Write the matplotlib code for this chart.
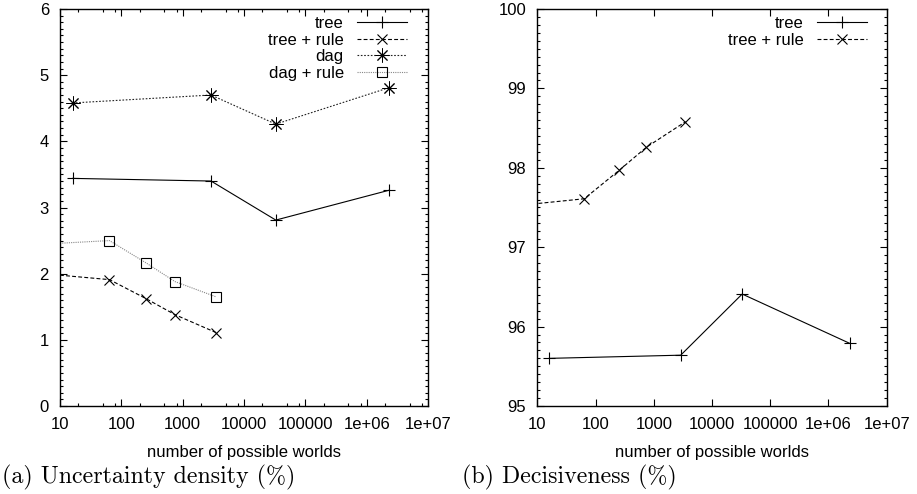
import matplotlib
matplotlib.use('Agg')
import matplotlib.pyplot as plt
from matplotlib.ticker import LogLocator, MultipleLocator, FixedFormatter, NullFormatter

plt.rcParams['font.family'] = ['Liberation Sans', 'DejaVu Sans']

# (a) uncertainty density
tree_x = [16, 2900, 33000, 2.3e6]
tree_a = [3.44, 3.40, 2.81, 3.26]
rule_x = [4, 64, 256, 750, 3500]
tree_rule_a = [2.01, 1.91, 1.62, 1.38, 1.11]
dag_a = [4.58, 4.70, 4.26, 4.81]
dag_rule_a = [2.44, 2.50, 2.16, 1.88, 1.65]

# (b) decisiveness
tree_b = [95.60, 95.64, 96.41, 95.79]
tree_rule_b = [97.52, 97.61, 97.97, 98.26, 98.58]

xticks = [10, 100, 1000, 10000, 100000, 1e6, 1e7]
xticklabels = ['10', '100', '1000', '10000', '100000', '1e+06', '1e+07']
captions = ['(a) Uncertainty density (%)', '(b) Decisiveness (%)']

fs = 12
fig = plt.figure(figsize=(9.17, 4.94), dpi=100)
ax1 = fig.add_axes([60 / 917, 88 / 494, 368 / 917, 397 / 494])
ax2 = fig.add_axes([537.3 / 917, 88 / 494, 349.4 / 917, 397 / 494])

lw = 0.8
ax1.plot(tree_x, tree_a, color='black', lw=lw, marker='+', ms=9, mew=0.8, label='tree')
ax1.plot(rule_x, tree_rule_a, color='black', lw=lw, ls=(0, (3.5, 2)), marker='x', ms=7.5, mew=0.8,
         label='tree + rule')
ax1.plot(tree_x, dag_a, color='#222222', lw=lw, ls=(0, (1.5, 1.5)), marker=(8, 2, 0), ms=10, mew=0.7,
         mec='black', label='dag')
ax1.plot(rule_x, dag_rule_a, color='#888888', lw=lw, ls=(0, (1, 1)), marker='s', ms=7.5, mew=0.8,
         mfc='none', mec='black', label='dag + rule')
ax1.set_ylim(0, 6)
ax1.yaxis.set_major_locator(MultipleLocator(1))
ax1.yaxis.set_minor_locator(MultipleLocator(0.1))

ax2.plot(tree_x, tree_b, color='black', lw=lw, marker='+', ms=9, mew=0.8, label='tree')
ax2.plot(rule_x, tree_rule_b, color='black', lw=lw, ls=(0, (3.5, 2)), marker='x', ms=7.5, mew=0.8,
         label='tree + rule')
ax2.set_ylim(95, 100)
ax2.yaxis.set_major_locator(MultipleLocator(1))
ax2.yaxis.set_minor_locator(MultipleLocator(0.1))

for ax, cap in zip([ax1, ax2], captions):
    ax.set_xscale('log')
    ax.set_xlim(10, 1e7)
    ax.set_xticks(xticks)
    ax.xaxis.set_major_formatter(FixedFormatter(xticklabels))
    ax.xaxis.set_minor_locator(LogLocator(base=10, subs=(2, 5, 8)))
    ax.xaxis.set_minor_formatter(NullFormatter())
    ax.tick_params(which='both', direction='in', top=True, right=True, width=0.8,
                   labelsize=fs, colors='black', pad=8)
    ax.tick_params(which='major', length=5)
    ax.tick_params(which='minor', length=2.5)
    for s in ax.spines.values():
        s.set_linewidth(1.0)
    ax.set_xlabel('number of possible worlds', fontsize=fs, labelpad=9)
    ax.legend(loc='upper right', bbox_to_anchor=(1 - 21 / 368, 1 - 7 / 397), frameon=False,
              markerfirst=False, fontsize=fs, handlelength=3.0, handletextpad=0.8,
              labelspacing=0.1, borderpad=0, borderaxespad=0)

fig.text(2 / 917, 1 - 477 / 494, captions[0], family='cmr10', fontsize=17.2, va='center', ha='left')
fig.text(462 / 917, 1 - 477 / 494, captions[1], family='cmr10', fontsize=17.2, va='center', ha='left')

fig.savefig('out.png', dpi=100)
